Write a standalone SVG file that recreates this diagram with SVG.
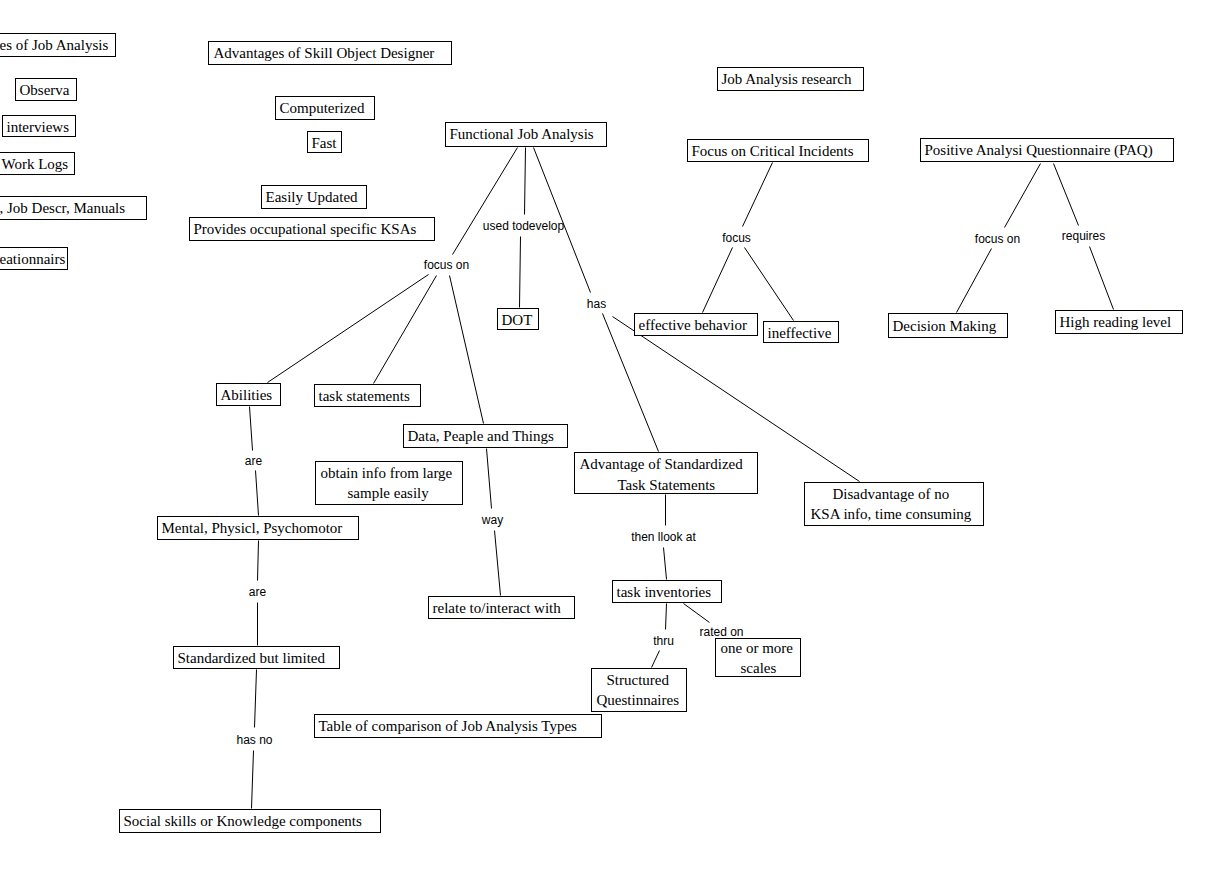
<svg xmlns="http://www.w3.org/2000/svg" width="1223" height="873" viewBox="0 0 1223 873">
<style>
.n rect{fill:#fff;stroke:#000;stroke-width:1}
.n text{font-family:"Liberation Serif","Times New Roman",serif;font-size:15px;fill:#000}
.c line{stroke:#000;stroke-width:1}
.l{font-family:"Liberation Sans",Arial,sans-serif;font-size:12px;fill:#000;text-anchor:middle}
</style>
<rect width="1223" height="873" fill="#fff"/>
<g transform="translate(0.5,0.5)">
<g id="connectors" class="c">
<line x1="517" y1="147" x2="452" y2="254"/>
<line x1="428" y1="274" x2="267" y2="382"/>
<line x1="436" y1="275" x2="373" y2="383"/>
<line x1="449" y1="275" x2="483" y2="423"/>
<line x1="525" y1="147" x2="524" y2="214"/>
<line x1="520" y1="236" x2="519" y2="307"/>
<line x1="533" y1="147" x2="590" y2="292"/>
<line x1="602" y1="313" x2="658" y2="451"/>
<line x1="612" y1="316" x2="859" y2="481"/>
<line x1="772" y1="162" x2="742" y2="226"/>
<line x1="732" y1="247" x2="702" y2="312"/>
<line x1="744" y1="247" x2="793" y2="320"/>
<line x1="1040" y1="163" x2="1004" y2="227"/>
<line x1="991" y1="248" x2="956" y2="312"/>
<line x1="1053" y1="163" x2="1078" y2="225"/>
<line x1="1089" y1="246" x2="1113" y2="309"/>
<line x1="249" y1="406" x2="252" y2="450"/>
<line x1="255" y1="470" x2="258" y2="515"/>
<line x1="258" y1="540" x2="257" y2="580"/>
<line x1="257" y1="602" x2="257" y2="645"/>
<line x1="256" y1="669" x2="254" y2="727"/>
<line x1="253" y1="750" x2="251" y2="808"/>
<line x1="486" y1="448" x2="491" y2="508"/>
<line x1="494" y1="530" x2="500" y2="595"/>
<line x1="665" y1="494" x2="665" y2="525"/>
<line x1="663" y1="547" x2="666" y2="579"/>
<line x1="666" y1="603" x2="665" y2="629"/>
<line x1="659" y1="650" x2="651" y2="667"/>
<line x1="683" y1="603" x2="709" y2="622"/>
<text class="l" x="446" y="268">focus on</text>
<text class="l" x="523" y="229">used todevelop</text>
<text class="l" x="596" y="307">has</text>
<text class="l" x="736" y="241">focus</text>
<text class="l" x="997" y="242">focus on</text>
<text class="l" x="1083" y="239">requires</text>
<text class="l" x="253" y="464">are</text>
<text class="l" x="257" y="595">are</text>
<text class="l" x="254" y="743">has no</text>
<text class="l" x="492" y="523">way</text>
<text class="l" x="663" y="540">then llook at</text>
<text class="l" x="663" y="644">thru</text>
<text class="l" x="721" y="635">rated on</text>
</g>
<g id="n1" class="n"><rect x="-10" y="33" width="125" height="23"/><text x="-1" y="49">es of Job Analysis</text></g>
<g id="n2" class="n"><rect x="15" y="78" width="61" height="22"/><text x="19" y="94">Observa</text></g>
<g id="n3" class="n"><rect x="2" y="115" width="73" height="21"/><text x="6" y="131">interviews</text></g>
<g id="n4" class="n"><rect x="-5" y="152" width="79" height="22"/><text x="1" y="168">Work Logs</text></g>
<g id="n5" class="n"><rect x="-5" y="196" width="151" height="23"/><text x="-1" y="212">, Job Descr, Manuals</text></g>
<g id="n6" class="n"><rect x="-5" y="247" width="72" height="22"/><text x="-1" y="263">eationnairs</text></g>
<g id="n7" class="n"><rect x="208" y="41" width="243" height="23"/><text x="213" y="57">Advantages of Skill Object Designer</text></g>
<g id="n8" class="n"><rect x="275" y="96" width="99" height="23"/><text x="279" y="112">Computerized</text></g>
<g id="n9" class="n"><rect x="307" y="131" width="34" height="21"/><text x="311" y="147">Fast</text></g>
<g id="n10" class="n"><rect x="261" y="185" width="105" height="23"/><text x="265" y="201">Easily Updated</text></g>
<g id="n11" class="n"><rect x="189" y="217" width="245" height="23"/><text x="193" y="233">Provides occupational specific KSAs</text></g>
<g id="n12" class="n"><rect x="445" y="122" width="161" height="24"/><text x="449" y="138">Functional Job Analysis</text></g>
<g id="n13" class="n"><rect x="717" y="67" width="146" height="23"/><text x="721" y="83">Job Analysis research</text></g>
<g id="n14" class="n"><rect x="687" y="139" width="181" height="22"/><text x="691" y="155">Focus on Critical Incidents</text></g>
<g id="n15" class="n"><rect x="920" y="138" width="253" height="23"/><text x="924" y="154">Positive Analysi Questionnaire (PAQ)</text></g>
<g id="n16" class="n"><rect x="497" y="308" width="41" height="21"/><text x="501" y="324">DOT</text></g>
<g id="n17" class="n"><rect x="634" y="313" width="123" height="22"/><text x="638" y="329">effective behavior</text></g>
<g id="n18" class="n"><rect x="763" y="321" width="75" height="21"/><text x="767" y="337">ineffective</text></g>
<g id="n19" class="n"><rect x="888" y="313" width="119" height="24"/><text x="892" y="330">Decision Making</text></g>
<g id="n20" class="n"><rect x="1055" y="310" width="127" height="23"/><text x="1059" y="326">High reading level</text></g>
<g id="n21" class="n"><rect x="216" y="383" width="64" height="22"/><text x="220" y="399">Abilities</text></g>
<g id="n22" class="n"><rect x="314" y="384" width="106" height="22"/><text x="318" y="400">task statements</text></g>
<g id="n23" class="n"><rect x="403" y="424" width="164" height="23"/><text x="407" y="440">Data, Peaple and Things</text></g>
<g id="n24" class="n"><rect x="315" y="461" width="147" height="43"/><text x="320" y="477">obtain info from large</text><text x="347" y="497">sample easily</text></g>
<g id="n25" class="n"><rect x="574" y="452" width="183" height="41"/><text x="579" y="468">Advantage of Standardized</text><text x="617" y="489">Task Statements</text></g>
<g id="n26" class="n"><rect x="804" y="482" width="179" height="43"/><text x="832" y="498">Disadvantage of no</text><text x="810" y="518">KSA info, time consuming</text></g>
<g id="n27" class="n"><rect x="157" y="516" width="201" height="23"/><text x="161" y="532">Mental, Physicl, Psychomotor</text></g>
<g id="n28" class="n"><rect x="428" y="596" width="146" height="22"/><text x="432" y="612">relate to/interact with</text></g>
<g id="n29" class="n"><rect x="612" y="580" width="109" height="22"/><text x="616" y="596">task inventories</text></g>
<g id="n30" class="n"><rect x="715" y="638" width="85" height="38"/><text x="720" y="652">one or more</text><text x="740" y="672">scales</text></g>
<g id="n31" class="n"><rect x="591" y="668" width="95" height="43"/><text x="606" y="684">Structured</text><text x="596" y="704">Questinnaires</text></g>
<g id="n32" class="n"><rect x="173" y="646" width="166" height="22"/><text x="177" y="662">Standardized but limited</text></g>
<g id="n33" class="n"><rect x="314" y="714" width="287" height="23"/><text x="318" y="730">Table of comparison of Job Analysis Types</text></g>
<g id="n34" class="n"><rect x="119" y="809" width="261" height="23"/><text x="123" y="825">Social skills or Knowledge components</text></g>
</g>
</svg>
